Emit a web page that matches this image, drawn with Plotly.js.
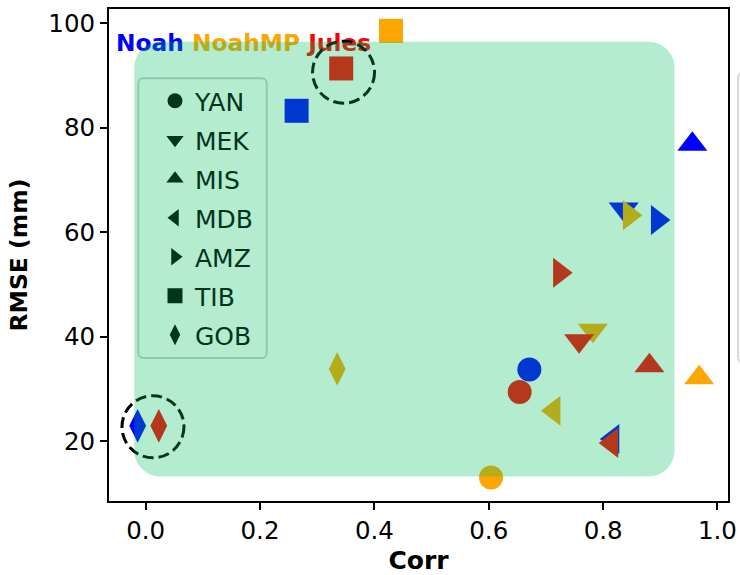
<!DOCTYPE html>
<html>
<head>
<meta charset="utf-8">
<script src="https://cdn.plot.ly/plotly-3.0.1.min.js"></script>
<style>html,body{margin:0;padding:0;background:#fff;}#chart{width:740px;height:575px;}</style>
</head>
<body>
<div id="chart"></div>
<script>
// ---- data ----
const regions = ['YAN', 'MEK', 'MIS', 'MDB', 'AMZ', 'TIB', 'GOB'];
const regionSymbols = ['circle', 'triangle-down', 'triangle-up', 'triangle-left', 'triangle-right', 'square', 'diamond-tall'];
const models = ['Noah', 'NoahMP', 'Jules'];
const modelColors = ['#0000ff', '#ffa500', '#ff0000'];
const corrNoah   = [0.671, 0.836, 0.956, 0.817, 0.895, 0.264, -0.014];
const rmseNoah   = [33.7, 64.4, 76.8, 20.4, 62.3, 83.2, 22.9];
const corrNoahMP = [0.604, 0.782, 0.968, 0.714, 0.846, 0.429, 0.335];
const rmseNoahMP = [13.0, 41.2, 32.1, 25.8, 63.2, 98.5, 33.8];
const corrJules  = [0.654, 0.758, 0.881, 0.815, 0.724, 0.342, 0.023];
const rmseJules  = [29.4, 39.2, 34.4, 19.6, 52.2, 91.3, 22.9];
const xTicks = [0.0, 0.2, 0.4, 0.6, 0.8, 1.0];
const yTicks = [20, 40, 60, 80, 100];

const corrs = [corrNoah, corrNoahMP, corrJules];
const rmses = [rmseNoah, rmseNoahMP, rmseJules];

// ---- layout geometry ----
const M = {l: 109, r: 12, t: 9, b: 74};
const plotW = 740 - M.l - M.r, plotH = 575 - M.t - M.b;
const xRange = [-0.0641, 1.0184];
const yRange = [8.52, 102.68];
const xs = plotW / (xRange[1] - xRange[0]);
const ys = plotH / (yRange[1] - yRange[0]);
const FONT = 'DejaVu Sans, Verdana, sans-serif';
const dark = '#00351a';

function rrect(x0, y0, x1, y1, rx, ry) {
  const k = 0.4477;
  return `M ${x0+rx},${y0} L ${x1-rx},${y0} C ${x1-rx*k},${y0} ${x1},${y0+ry*k} ${x1},${y0+ry}` +
         ` L ${x1},${y1-ry} C ${x1},${y1-ry*k} ${x1-rx*k},${y1} ${x1-rx},${y1}` +
         ` L ${x0+rx},${y1} C ${x0+rx*k},${y1} ${x0},${y1-ry*k} ${x0},${y1-ry}` +
         ` L ${x0},${y0+ry} C ${x0},${y0+ry*k} ${x0+rx*k},${y0} ${x0+rx},${y0} Z`;
}
// pixel -> paper
const px2pX = p => (p - M.l) / plotW;
const px2pY = p => (575 - M.b - p) / plotH;

const traces = [];
// model traces
models.forEach((m, i) => {
  traces.push({
    type: 'scatter', mode: 'markers', name: m, showlegend: false,
    x: corrs[i], y: rmses[i],
    marker: {
      symbol: regionSymbols,
      size: regionSymbols.map(s => s.startsWith('triangle') ? 26 : 24),
      color: modelColors[i], opacity: 1, line: {width: 0}
    },
    hoverinfo: 'x+y+name'
  });
});
// model names (drawn under the overlay)
traces.push({
  type: 'scatter', mode: 'text', showlegend: false, hoverinfo: 'skip', cliponaxis: false,
  x: [0.1712], y: [95.7], textposition: 'middle center',
  text: ['<b>' + models.map((m, i) => `<span style="color:${modelColors[i]}">${m}</span>`).join(' ') + '</b>'],
  textfont: {family: FONT, size: 23.3}
});
// legend-only traces
regions.forEach((r, i) => {
  traces.push({
    type: 'scatter', mode: 'markers', name: r, legendgroup: r,
    x: [null], y: [null],
    marker: {symbol: regionSymbols[i], size: 15, color: dark}
  });
});

const shapes = [
  // legend frame (under overlay)
  {type: 'path', xref: 'paper', yref: 'paper', layer: 'above',
   path: rrect(px2pX(138.3), px2pY(358), px2pX(266.7), px2pY(78.3), 5/plotW, 5/plotH),
   fillcolor: 'rgba(255,255,255,0.8)', line: {color: '#cccccc', width: 2}},
  // dashed circles
  {type: 'circle', xref: 'x', yref: 'y', layer: 'above', xsizemode: 'pixel', ysizemode: 'pixel',
   xanchor: 0.3461, yanchor: 90.58, x0: -31, x1: 31, y0: -31, y1: 31,
   line: {color: '#000000', width: 3, dash: '11px,5px'}},
  {type: 'circle', xref: 'x', yref: 'y', layer: 'above', xsizemode: 'pixel', ysizemode: 'pixel',
   xanchor: 0.0128, yanchor: 22.72, x0: -31, x1: 31, y0: -31, y1: 31,
   line: {color: '#000000', width: 3, dash: '11px,5px'}},
  // green overlay
  {type: 'path', xref: 'x', yref: 'y', layer: 'above',
   path: rrect(-0.0199, 13.2, 0.9249, 96.4, 26/xs, 26/ys),
   fillcolor: 'rgba(0,190,95,0.294)', line: {width: 0}},
  // cut-off box at right edge
  {type: 'path', xref: 'paper', yref: 'paper', layer: 'below',
   path: rrect(px2pX(738), px2pY(363), px2pX(760), px2pY(72), 6/plotW, 6/plotH),
   fillcolor: '#ffffff', line: {color: '#d9d9d9', width: 2}}
];

const axisCommon = {
  showline: true, mirror: true, linecolor: '#000000', linewidth: 2,
  ticks: 'outside', ticklen: 7, tickwidth: 2, tickcolor: '#000000',
  showgrid: false, zeroline: false,
  tickfont: {family: FONT, size: 24.5, color: '#000000'}
};

const layout = {
  width: 740, height: 575,
  margin: M,
  paper_bgcolor: '#ffffff', plot_bgcolor: '#ffffff',
  font: {family: FONT},
  showlegend: true,
  xaxis: Object.assign({}, axisCommon, {
    range: xRange, tickvals: xTicks, ticktext: xTicks.map(v => v.toFixed(1)),
    title: {text: '<b>Corr</b>', font: {family: FONT, size: 25, color: '#000'}, standoff: 8}
  }),
  yaxis: Object.assign({}, axisCommon, {
    range: yRange, tickvals: yTicks, ticktext: yTicks.map(String),
    title: {text: '<b>RMSE (mm)</b>', font: {family: FONT, size: 23.5, color: '#000'}, standoff: 14}
  }),
  legend: {
    x: px2pX(155), y: px2pY(78), xanchor: 'left', yanchor: 'top',
    bgcolor: 'rgba(0,0,0,0)', borderwidth: 0,
    font: {family: FONT, size: 25, color: dark},
    tracegroupgap: 3.5
  },
  shapes: shapes
};

Plotly.newPlot('chart', traces, layout, {displayModeBar: false, staticPlot: true});
</script>
</body>
</html>
